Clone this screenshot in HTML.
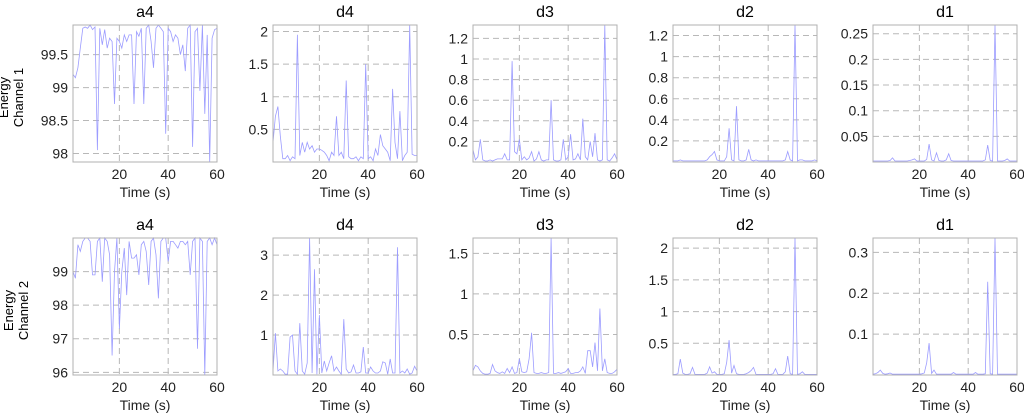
<!DOCTYPE html>
<html><head><meta charset="utf-8"><style>
html,body{margin:0;padding:0;background:#fff;width:1024px;height:414px;overflow:hidden}
svg{display:block;font-family:"Liberation Sans",Arial,sans-serif}
</style></head><body>
<svg id="c" width="1024" height="414" viewBox="0 0 1024 414"></svg>
<script>
const titles = ["a4","d4","d3","d2","d1"];
const xTicks = [20,40,60];
const ch1_a4 = [99.2,99.15,99.3,99.6,99.9,99.92,99.9,99.95,99.88,99.92,98.05,99.9,99.65,99.88,99.6,99.75,99.7,98.75,99.75,99.7,99.6,99.8,99.7,99.8,99.8,98.75,99.85,99.78,99.9,98.75,99.9,99.95,99.7,99.3,99.9,99.95,99.9,99.85,98.3,99.9,99.85,99.7,99.8,99.75,99.5,99.65,99.25,99.9,99.95,98.1,99.85,99.9,98.95,99.95,98.6,99.8,97.87,99.75,99.88,99.9];
const ch1_d4 = [0.3,0.7,0.85,0.4,0.05,0.05,0.1,0.02,0.08,0.05,1.95,0.1,0.3,0.15,0.3,0.2,0.25,0.15,0.2,0.2,0.18,0.15,0.1,0.02,0.15,0.1,0.7,0.1,0.15,0.05,1.25,0.08,0.05,0.05,0.08,0.02,0.08,0.05,1.5,0.05,0.08,0.02,0.2,0.1,0.42,0.25,0.2,0.15,0.02,1.12,0.3,0.05,0.78,0.02,0.1,0.15,2.1,0.12,0.1,0.1];
const ch1_d3 = [0.12,0.02,0.05,0.22,0.02,0.01,0.01,0.02,0.01,0.02,0.03,0.03,0.03,0.08,0.02,0.02,0.98,0.1,0.08,0.22,0.02,0.05,0.02,0.04,0.1,0.01,0.03,0.1,0.02,0.01,0.02,0.02,0.6,0.02,0.01,0.01,0.02,0.22,0.02,0.05,0.27,0.02,0.03,0.08,0.02,0.42,0.05,0.02,0.2,0.05,0.28,0.02,0.01,0.02,1.33,0.02,0.01,0.04,0.08,0.02];
const ch1_d2 = [0.01,0.01,0.01,0.02,0.01,0.01,0.01,0.01,0.01,0.01,0.01,0.01,0.01,0.01,0.02,0.05,0.07,0.1,0.02,0.01,0.01,0.01,0.05,0.32,0.02,0.01,0.53,0.02,0.01,0.01,0.02,0.12,0.02,0.01,0.02,0.01,0.01,0.01,0.01,0.01,0.01,0.01,0.01,0.01,0.01,0.01,0.02,0.1,0.02,0.01,1.3,0.01,0.02,0.02,0.01,0.01,0.01,0.01,0.02,0.01];
const ch1_d1 = [0.002,0.002,0.002,0.002,0.002,0.002,0.002,0.003,0.008,0.002,0.002,0.002,0.002,0.002,0.002,0.003,0.004,0.006,0.002,0.002,0.002,0.002,0.005,0.035,0.004,0.002,0.018,0.003,0.002,0.002,0.004,0.016,0.003,0.002,0.002,0.002,0.002,0.002,0.002,0.002,0.002,0.002,0.002,0.002,0.002,0.002,0.004,0.033,0.003,0.002,0.267,0.002,0.002,0.002,0.003,0.006,0.002,0.002,0.002,0.002];
const ch2_a4 = [99.0,98.8,99.8,99.6,99.9,100,100,99.9,98.9,98.9,99.9,100,98.7,100,99.9,99.5,96.5,99.0,100,97.3,99.0,99.7,98.3,99.9,99.4,99.4,99.5,98.9,99.8,99.9,99.6,98.6,99.9,100,99.5,98.2,99.9,100,100,99.3,99.9,99.9,99.8,99.7,99.9,99.9,99.8,99.9,98.9,99.9,100,96.7,100,99.9,95.92,99.9,100,99.8,100,99.8];
const ch2_d4 = [0.1,1.05,0.1,0.15,0.1,0.02,0.02,0.95,1.0,0.1,0.02,1.3,0.1,0.02,0.3,3.43,0.05,2.65,0.02,1.5,0.05,0.35,0.1,0.3,0.48,0.1,0.2,0.1,0.02,1.4,0.15,0.05,0.08,0.25,0.05,0.05,0.08,0.7,0.05,0.05,0.2,0.1,0.05,0.05,0.1,0.33,0.3,0.02,0.4,0.05,0.05,3.2,0.05,0.1,0.05,0.15,0.02,0.05,0.22,0.1];
const ch2_d3 = [0.05,0.12,0.1,0.05,0.02,0.01,0.01,0.02,0.13,0.05,0.03,0.02,0.04,0.02,0.08,0.03,0.1,0.02,0.03,0.2,0.04,0.03,0.04,0.2,0.52,0.03,0.02,0.02,0.03,0.02,0.02,0.03,1.69,0.02,0.02,0.03,0.02,0.03,0.04,0.08,0.02,0.02,0.03,0.03,0.05,0.1,0.02,0.3,0.3,0.1,0.4,0.05,0.82,0.05,0.2,0.03,0.02,0.02,0.04,0.07];
const ch2_d2 = [0.01,0.01,0.02,0.25,0.03,0.01,0.01,0.02,0.12,0.01,0.01,0.01,0.01,0.01,0.03,0.13,0.03,0.05,0.01,0.01,0.01,0.02,0.2,0.55,0.03,0.15,0.02,0.01,0.01,0.01,0.02,0.04,0.07,0.12,0.01,0.01,0.01,0.01,0.01,0.01,0.01,0.02,0.1,0.01,0.01,0.01,0.05,0.3,0.02,0.01,2.16,0.01,0.02,0.05,0.01,0.01,0.01,0.01,0.01,0.01];
const ch2_d1 = [0.002,0.003,0.006,0.012,0.004,0.002,0.003,0.005,0.002,0.002,0.002,0.002,0.002,0.002,0.002,0.002,0.002,0.002,0.002,0.002,0.003,0.005,0.03,0.078,0.004,0.012,0.002,0.002,0.002,0.002,0.002,0.002,0.002,0.006,0.002,0.002,0.002,0.002,0.002,0.002,0.002,0.002,0.006,0.002,0.002,0.002,0.003,0.228,0.003,0.002,0.335,0.002,0.002,0.002,0.002,0.002,0.002,0.002,0.002,0.002];
const series = [[ch1_a4,ch1_d4,ch1_d3,ch1_d2,ch1_d1],[ch2_a4,ch2_d4,ch2_d3,ch2_d2,ch2_d1]];
const yTicks = [[[98,98.5,99,99.5],[0.5,1,1.5,2],[0.2,0.4,0.6,0.8,1,1.2],[0.2,0.4,0.6,0.8,1,1.2],[0.05,0.1,0.15,0.2,0.25]],
                [[96,97,98,99],[1,2,3],[0.5,1,1.5],[0.5,1,1.5,2],[0.1,0.2,0.3]]];
const yLabels = ["Channel 1","Channel 2"];

const svg = document.getElementById('c');
const NS = 'http://www.w3.org/2000/svg';
function mk(tag, attrs, parent){const e=document.createElementNS(NS,tag);for(const k in attrs)e.setAttribute(k,attrs[k]);(parent||svg).appendChild(e);return e;}
const lefts=[73,273,473,673,873], W=144;
const tops=[25,238], H=137;
for(let r=0;r<2;r++){
  const yl = mk('text',{x:0,y:0,'font-size':13,'text-anchor':'middle',transform:`translate(${r?13:8},${tops[r]+H/2+4}) rotate(-90)`});
  
  
  mk('tspan',{x:0,dy:0},yl).textContent='Energy';
  mk('tspan',{x:0,dy:15},yl).textContent=yLabels[r];
  for(let c=0;c<5;c++){
    const d=series[r][c];
    let mn=Math.min(...d), mx=Math.max(...d);
    if(c>0) mn=0;
    const L=lefts[c], T=tops[r];
    const sx=v=>L+(v-1)/59*W;
    const sy=v=>T+H-(v-mn)/(mx-mn)*H;
    const g=mk('g',{});
    
    
    const t=mk('text',{x:L+W/2,y:T-8,'font-size':16,'text-anchor':'middle',fill:'#000'},g);
    t.textContent=titles[c];
    
    
    yTicks[r][c].forEach(v=>{
      const y=sy(v);
      mk('line',{x1:L,x2:L+W,y1:y,y2:y,stroke:'#b8b8b8','stroke-dasharray':'6,4','stroke-width':1},g);
      const tt=mk('text',{x:L-5,y:y+5,'font-size':14,'text-anchor':'end',fill:'#222'},g);
      tt.textContent=v;
      
      
    });
    xTicks.forEach(v=>{
      const x=sx(v);
      if(v<60) mk('line',{x1:x,x2:x,y1:T,y2:T+H,stroke:'#b8b8b8','stroke-dasharray':'6,4','stroke-width':1},g);
      const tt=mk('text',{x:x,y:T+H+17,'font-size':14,'text-anchor':'middle',fill:'#222'},g);
      tt.textContent=v;
      
      
    });
    const xl=mk('text',{x:L+W/2,y:T+H+35,'font-size':14,'text-anchor':'middle',fill:'#222'},g);
    xl.textContent='Time (s)';
    
    
    const pts=d.map((v,i)=>sx(1+i*59/(d.length-1)).toFixed(1)+','+sy(v).toFixed(1)).join(' ');
    const pl=mk('polyline',{points:pts,fill:'none',stroke:'#9c9cff','stroke-width':0.8},g);
    
    
    const b=mk('rect',{x:L,y:T,width:W,height:H,fill:'none',stroke:'#b0b0b0','stroke-width':1},g);
    
    
  }
}
</script>
</body></html>
